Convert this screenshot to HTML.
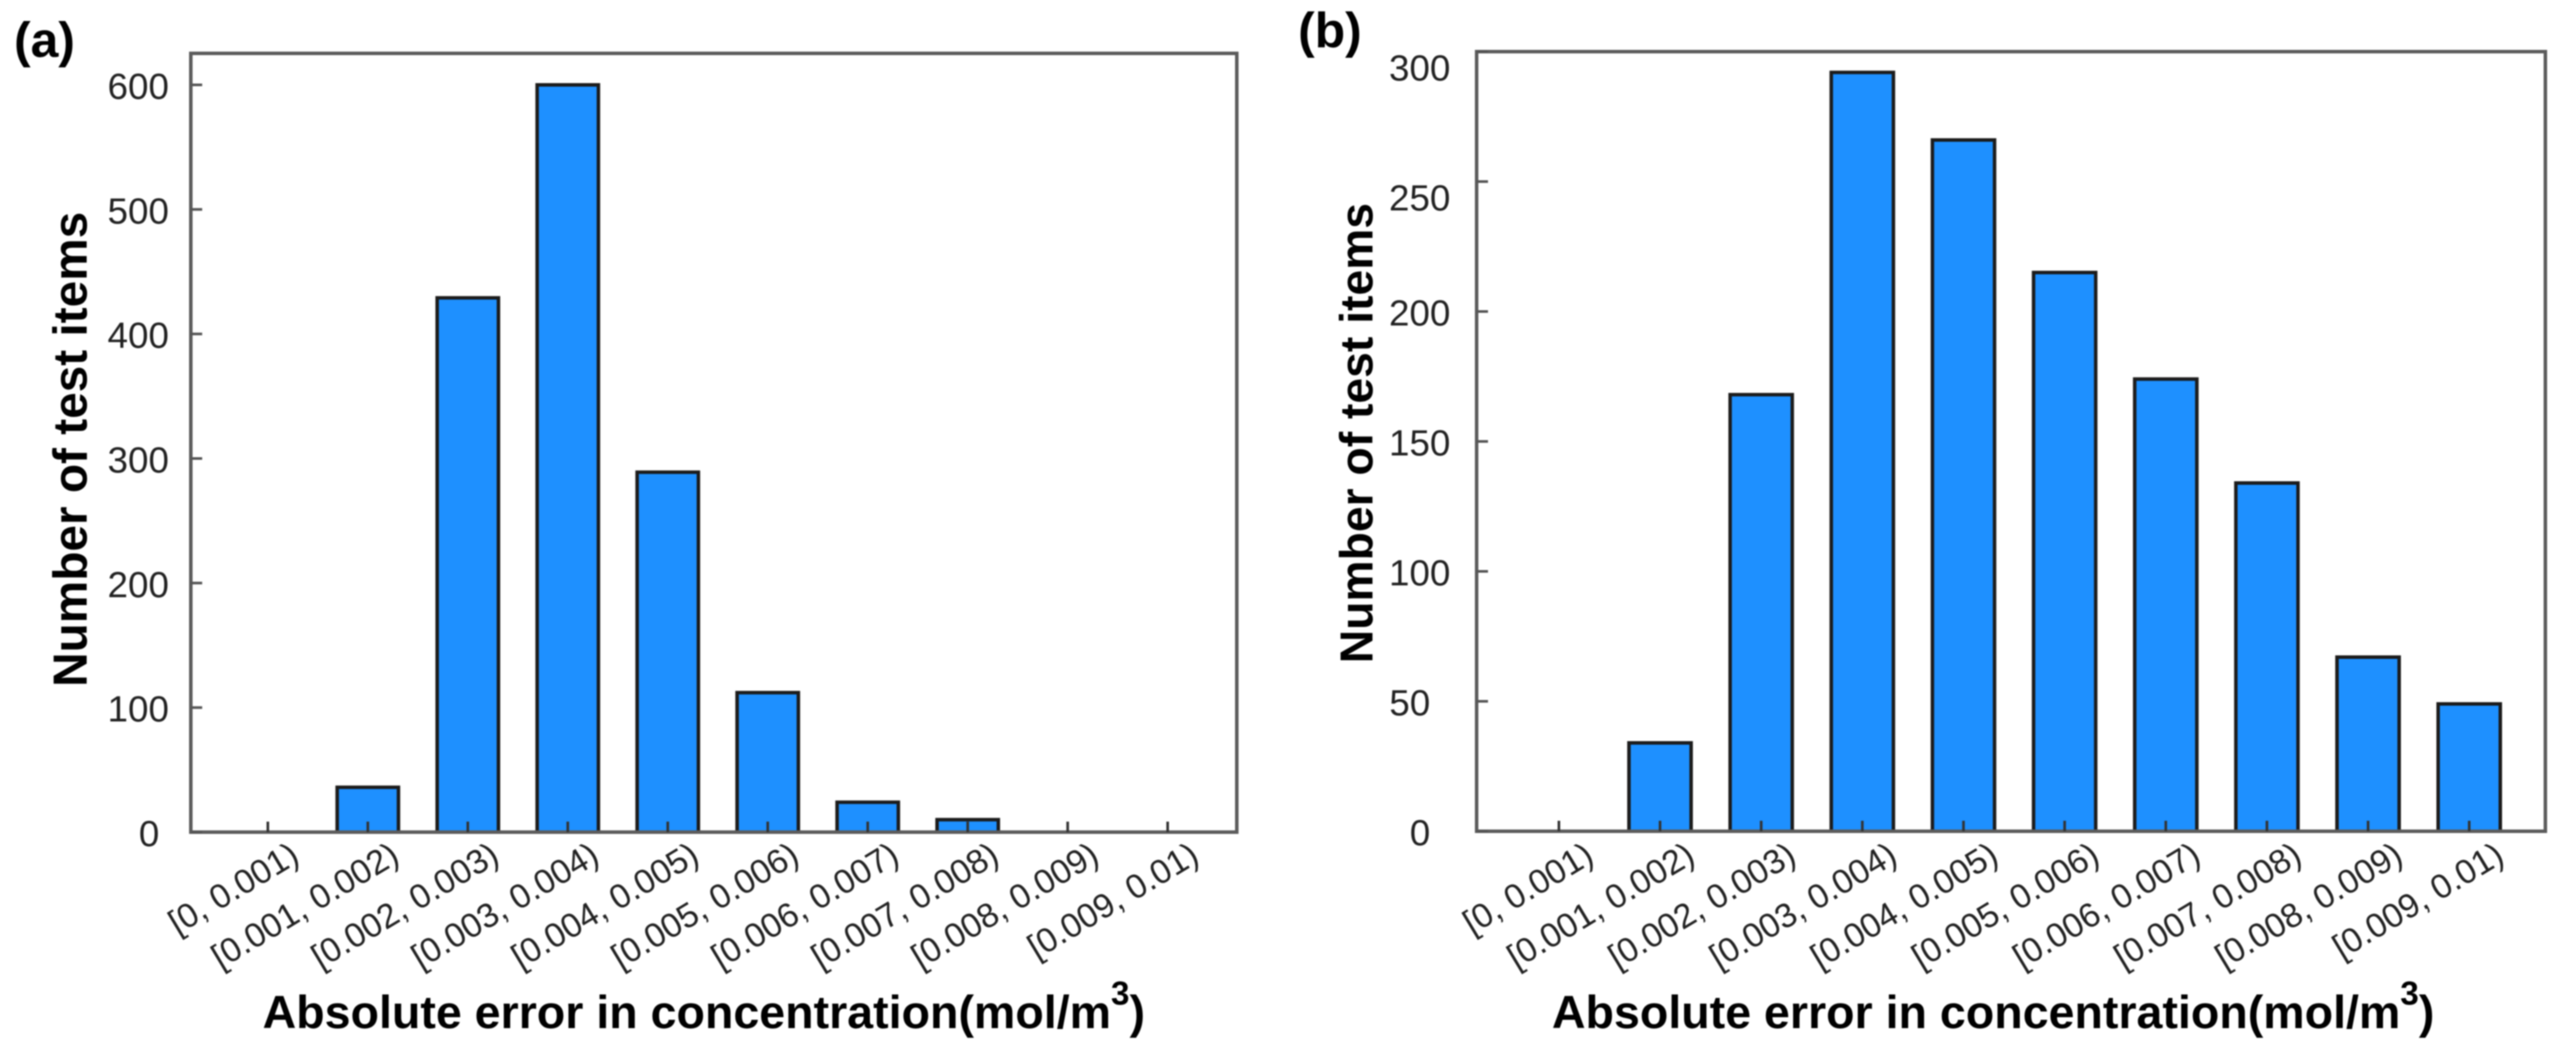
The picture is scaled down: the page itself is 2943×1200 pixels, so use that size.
<!DOCTYPE html>
<html lang="en">
<head>
<meta charset="utf-8">
<title>Absolute error histograms</title>
<style>
html,body{margin:0;padding:0;background:#fff;width:2943px;height:1200px;overflow:hidden}
svg{display:block;filter:blur(0.7px)}
text{font-family:"Liberation Sans",Arial,sans-serif;fill:#111}
.tick{font-size:42px;fill:#222}
.cat{font-size:39px;fill:#222}
.title-x{font-size:53.2px;font-weight:bold;fill:#000}
.title-ya{font-size:54.6px;font-weight:bold;fill:#000}
.title-yb{font-size:52.9px;font-weight:bold;fill:#000}
.panel{font-size:57px;font-weight:bold;fill:#000}
.sup{font-size:38px}
</style>
</head>
<body>
<svg id="figure" xmlns="http://www.w3.org/2000/svg" width="2943" height="1200" viewBox="0 0 2943 1200">
  <rect x="0" y="0" width="2943" height="1200" fill="#fff"/>
  <g id="chart-a"></g>
  <g id="chart-b"></g>

  <text class="panel" x="16" y="65">(a)</text>
  <text class="panel" x="1483" y="54">(b)</text>

  <text class="title-ya" transform="translate(99,785) rotate(-90)">Number of test items</text>
  <text class="title-yb" transform="translate(1568,758) rotate(-90)">Number of test items</text>

  <text class="title-x" x="300" y="1175">Absolute error in concentration(mol/m<tspan class="sup" dy="-27">3</tspan><tspan dy="27">)</tspan></text>
  <text class="title-x" x="1773" y="1175">Absolute error in concentration(mol/m<tspan class="sup" dy="-27">3</tspan><tspan dy="27">)</tspan></text>
</svg>
<script>
const categories = ["[0, 0.001)", "[0.001, 0.002)", "[0.002, 0.003)", "[0.003, 0.004)", "[0.004, 0.005)", "[0.005, 0.006)", "[0.006, 0.007)", "[0.007, 0.008)", "[0.008, 0.009)", "[0.009, 0.01)"];
const valuesA = [0, 36, 429, 600, 289, 112, 24, 10, 0, 0];
const valuesB = [0, 34, 168, 292, 266, 215, 174, 134, 67, 49];
const yTicksA = [0, 100, 200, 300, 400, 500, 600];
const yTicksB = [0, 50, 100, 150, 200, 250, 300];

const SVG_NS = "http://www.w3.org/2000/svg";

function makeEl(parent, tag, attrs) {
  const el = document.createElementNS(SVG_NS, tag);
  Object.keys(attrs).forEach(function (k) { el.setAttribute(k, attrs[k]); });
  parent.appendChild(el);
  return el;
}

function drawChart(rootId, suffix, values, yTicks, yMax, box) {
  const root = document.getElementById(rootId);
  const xScale = function (i) { return box.firstTick + i * (box.lastTick - box.firstTick) / (categories.length - 1); };
  const yScale = function (v) { return box.bottom - (v / yMax) * box.yAtMax; };

  values.forEach(function (v, i) {
    if (v <= 0) return;
    const bar = makeEl(root, "rect", {
      x: xScale(i) - box.barWidth / 2,
      y: yScale(v),
      width: box.barWidth,
      height: box.bottom - yScale(v),
      fill: "#1e90ff",
      stroke: "#1c1c1c",
      "stroke-width": 4
    });
    
    
  });

  const frame = makeEl(root, "rect", {
    x: box.left,
    y: box.top,
    width: box.right - box.left,
    height: box.bottom - box.top,
    fill: "none",
    stroke: "#5c5c5c",
    "stroke-width": 4
  });
  
  

  yTicks.forEach(function (t) {
    const y = yScale(t);
    const mark = makeEl(root, "line", {
      x1: box.left, x2: box.left + 13, y1: y, y2: y,
      stroke: "#555", "stroke-width": 3
    });
    
    

    const text = String(t);
    const labelX = text.length < 3 ? box.labelX - box.shortLabelShift : box.labelX;
    const labelY = y + 16 + (t >= box.loweredFrom ? box.loweredBy : 0);
    const label = makeEl(root, "text", {
      x: labelX, y: labelY, "text-anchor": "end", "class": "tick"
    });
    label.textContent = text;
    
    
  });

  categories.forEach(function (c, i) {
    const x = xScale(i);
    const mark = makeEl(root, "line", {
      x1: x, x2: x, y1: box.bottom, y2: box.bottom - 12,
      stroke: "#333", "stroke-width": 3
    });
    
    

    const lx = x + box.labelDx;
    const ly = 984;
    const label = makeEl(root, "text", {
      "text-anchor": "end",
      "class": "cat",
      transform: "translate(" + lx + "," + ly + ") rotate(-31)"
    });
    label.textContent = c;
    
    
  });
}

drawChart("chart-a", "a", valuesA, yTicksA, 600,
  { left: 218, right: 1413, top: 61, bottom: 951, yAtMax: 854, firstTick: 306, lastTick: 1334, barWidth: 70, labelDx: 38,
    labelX: 193, shortLabelShift: 11, loweredFrom: Infinity, loweredBy: 0 });
drawChart("chart-b", "b", valuesB, yTicksB, 300,
  { left: 1687, right: 2908, top: 59, bottom: 950, yAtMax: 891, firstTick: 1781, lastTick: 2821, barWidth: 71, labelDx: 42,
    labelX: 1657, shortLabelShift: 23, loweredFrom: 250, loweredBy: 17 });
</script>
</body>
</html>
